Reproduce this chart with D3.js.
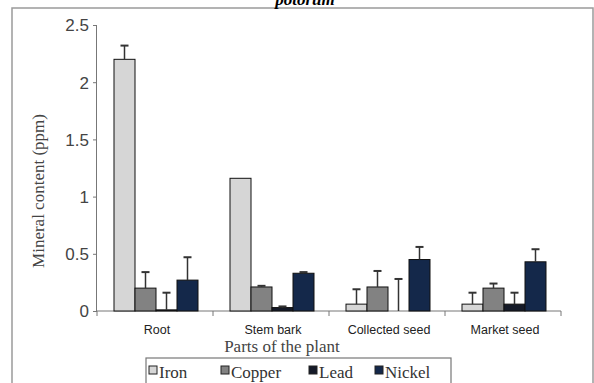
<!DOCTYPE html>
<html><head><meta charset="utf-8">
<script src="https://cdn.jsdelivr.net/npm/d3@7"></script>
<style>body{margin:0;background:#fff}svg{display:block}</style>
</head><body>
<svg id="c" width="594" height="383"></svg>
<script>
const categories = ["Root", "Stem bark", "Collected seed", "Market seed"];
const seriesNames = ["Iron", "Copper", "Lead", "Nickel"];
const iron   = [2.20, 1.16, 0.06, 0.06];
const copper = [0.20, 0.21, 0.21, 0.20];
const lead   = [0.01, 0.03, 0.00, 0.06];
const nickel = [0.27, 0.33, 0.45, 0.43];
const ironErr   = [0.12, 0.00, 0.13, 0.10];
const copperErr = [0.14, 0.01, 0.14, 0.04];
const leadErr   = [0.15, 0.01, 0.28, 0.10];
const nickelErr = [0.20, 0.01, 0.11, 0.11];
const yTicks = [0, 0.5, 1, 1.5, 2, 2.5];
const yTickLabels = ["0", "0.5", "1", "1.5", "2", "2.5"];
const colors = ["#d6d6d6", "#828282", "#151a28", "#14284a"];

const values = [iron, copper, lead, nickel];
const errs = [ironErr, copperErr, leadErr, nickelErr];

const svg = d3.select("#c");
// outer frame
svg.append("rect").attr("x", 12).attr("y", 8).attr("width", 581).attr("height", 390)
  .attr("fill", "none").attr("stroke", "#9a9a9a").attr("stroke-width", 1.5);
// title (partly cut off at the top, as in the reference)
svg.append("text").attr("x", 305).attr("y", 5).attr("text-anchor", "middle")
  .attr("font-family", "Liberation Serif").attr("font-style", "italic").attr("font-weight", "bold")
  .attr("font-size", 17).text("potorum");

const x0 = d3.scaleBand().domain(categories).range([97, 561]).paddingInner(0).paddingOuter(0);
const y = d3.scaleLinear().domain([0, 2.5]).range([311, 25]);
const x1 = d3.scaleBand().domain(seriesNames).range([17, 101]).padding(0);

const g = svg.append("g");
// y axis
const yAxis = d3.axisLeft(y).tickValues(yTicks).tickFormat((d, i) => yTickLabels[i]).tickSize(4).tickPadding(4);
const ya = g.append("g").attr("transform", "translate(97,0)").call(yAxis);
ya.select(".domain").attr("stroke", "#777").attr("d", "M-0.5,25V311");
ya.selectAll(".tick line").attr("stroke", "#777");
ya.selectAll("text").attr("font-family", "Liberation Sans").attr("font-size", 17).attr("fill", "#444").attr("dy", "0.35em");

// x axis
const xa = g.append("g").attr("transform", "translate(0,311)");
xa.append("line").attr("x1", 97).attr("x2", 561).attr("stroke", "#777");
const bounds = categories.map(c => x0(c)).concat([x0(categories[categories.length-1]) + x0.bandwidth()]);
xa.selectAll("line.tk").data(bounds).join("line").attr("class", "tk")
  .attr("x1", d => d).attr("x2", d => d).attr("y1", 0).attr("y2", 5).attr("stroke", "#777");
xa.selectAll("text").data(categories).join("text")
  .attr("x", d => x0(d) + x0.bandwidth() / 2 + 2).attr("y", 23).attr("text-anchor", "middle")
  .attr("font-family", "Liberation Sans").attr("font-size", 12.5).attr("fill", "#222").text(d => d);

// bars
const data = [];
categories.forEach((c, ci) => seriesNames.forEach((s, si) => data.push({c, s, si, v: values[si][ci], e: errs[si][ci]})));
const bg = g.append("g");
bg.selectAll("rect").data(data).join("rect")
  .attr("x", d => x0(d.c) + x1(d.s)).attr("width", x1.bandwidth())
  .attr("y", d => y(d.v)).attr("height", d => y(0) - y(d.v))
  .attr("fill", d => colors[d.si]).attr("stroke", "#111").attr("stroke-width", 1);
// error bars
const eg = g.append("g").attr("stroke", "#333").attr("stroke-width", 1.5);
data.filter(d => d.e > 0).forEach(d => {
  const cx = x0(d.c) + x1(d.s) + x1.bandwidth() / 2;
  eg.append("line").attr("x1", cx).attr("x2", cx).attr("y1", y(d.v)).attr("y2", y(d.v + d.e));
  eg.append("line").attr("x1", cx - 4).attr("x2", cx + 4).attr("y1", y(d.v + d.e)).attr("y2", y(d.v + d.e)).attr("stroke-width", 2);
});

// axis titles
svg.append("text").attr("x", 282).attr("y", 352).attr("text-anchor", "middle")
  .attr("font-family", "Liberation Serif").attr("font-size", 17).attr("fill", "#444").text("Parts of the plant");
svg.append("text").attr("transform", "translate(44,191) rotate(-90)").attr("text-anchor", "middle")
  .attr("font-family", "Liberation Serif").attr("font-size", 17).attr("fill", "#444").text("Mineral content (ppm)");

// legend
const lg = svg.append("g");
lg.append("rect").attr("x", 146).attr("y", 358).attr("width", 305).attr("height", 30)
  .attr("fill", "#fff").attr("stroke", "#777").attr("stroke-width", 1.2);
const legX = [149, 221, 309, 375];
seriesNames.forEach((s, i) => {
  lg.append("rect").attr("x", legX[i]).attr("y", 366).attr("width", 8).attr("height", 8)
    .attr("fill", colors[i]).attr("stroke", "#222");
  lg.append("text").attr("x", legX[i] + 10).attr("y", 378)
    .attr("font-family", "Liberation Serif").attr("font-size", 17).attr("fill", "#333").text(s);
});
</script>
</body></html>
